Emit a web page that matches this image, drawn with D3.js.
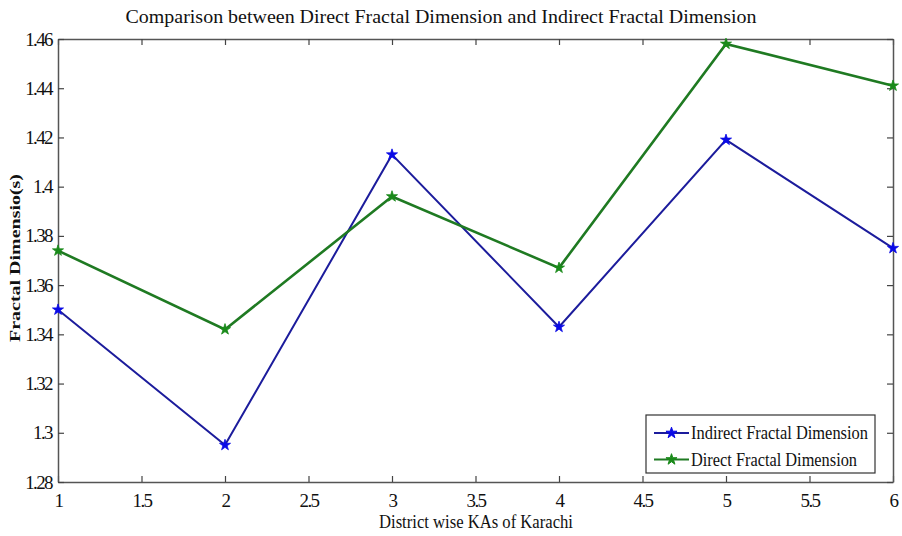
<!DOCTYPE html>
<html>
<head>
<meta charset="utf-8">
<script src="https://cdn.jsdelivr.net/npm/d3@7"></script>
<style>
  body { margin: 0; background: #fff; }
  svg text { font-family: "Liberation Serif", "Times New Roman", serif; fill: #111; }
</style>
</head>
<body>
<div id="chart"></div>
<script>
//Data
const districts = [1, 2, 3, 4, 5, 6];
const indirectFD = [1.350, 1.295, 1.413, 1.343, 1.419, 1.375];
const directFD = [1.374, 1.342, 1.396, 1.367, 1.458, 1.441];
const xTicks = [1, 1.5, 2, 2.5, 3, 3.5, 4, 4.5, 5, 5.5, 6];
const yTicks = [1.28, 1.3, 1.32, 1.34, 1.36, 1.38, 1.4, 1.42, 1.44, 1.46];
const seriesNames = ["Indirect Fractal Dimension", "Direct Fractal Dimension"];

//Margin
const margin = { top: 39, right: 9, bottom: 54, left: 58 };
const width = 902 - margin.left - margin.right;
const height = 536 - margin.top - margin.bottom;

const series = [
  { name: seriesNames[0], values: indirectFD, line: "#1c1c9c", mark: "#0a0ae6", w: 2 },
  { name: seriesNames[1], values: directFD, line: "#1f7a22", mark: "#1a8a1a", w: 2.6 }
];

const svg = d3.select("#chart").append("svg")
  .attr("width", 902)
  .attr("height", 536);

const g = svg.append("g")
  .attr("transform", "translate(" + margin.left + "," + margin.top + ")");

//Scales
const x = d3.scaleLinear().domain([1, 6]).range([0, width]);
const y = d3.scaleLinear().domain([1.28, 1.46]).range([height, 0]);

const fmt = d => String(+d.toFixed(2));

//Axes (ticks inside, box on all sides)
function styleAxis(sel) {
  sel.select(".domain").attr("stroke", "#555").attr("stroke-width", 1.5);
  sel.selectAll(".tick line").attr("stroke", "#444").attr("stroke-width", 1.2);
  sel.selectAll(".tick text")
    .style("font-family", "'Liberation Serif', serif")
    .style("font-size", "19px")
    .style("letter-spacing", "-1.6px")
    .style("fill", "#111");
}

g.append("g")
  .attr("transform", "translate(0," + height + ")")
  .call(d3.axisBottom(x).tickValues(xTicks).tickFormat(fmt).tickSizeInner(-6).tickSizeOuter(0).tickPadding(12))
  .call(styleAxis);

g.append("g")
  .call(d3.axisTop(x).tickValues(xTicks).tickFormat("").tickSizeInner(-6).tickSizeOuter(0))
  .call(styleAxis);

g.append("g")
  .call(d3.axisLeft(y).tickValues(yTicks).tickFormat(fmt).tickSizeInner(-6).tickSizeOuter(0).tickPadding(6))
  .call(styleAxis);

g.append("g")
  .attr("transform", "translate(" + width + ",0)")
  .call(d3.axisRight(y).tickValues(yTicks).tickFormat("").tickSizeInner(-6).tickSizeOuter(0))
  .call(styleAxis);

//Lines
const line = d3.line()
  .x((d, i) => x(districts[i]))
  .y(d => y(d));

const star = d3.symbol().type(d3.symbolStar).size(38);

series.forEach(function(s) {
  g.append("path")
    .attr("d", line(s.values))
    .attr("fill", "none")
    .attr("stroke", s.line)
    .attr("stroke-width", s.w);
  g.selectAll(null)
    .data(s.values)
    .enter().append("path")
    .attr("d", star)
    .attr("transform", (d, i) => "translate(" + x(districts[i]) + "," + y(d) + ")")
    .attr("fill", s.mark)
    .attr("stroke", s.mark)
    .attr("stroke-width", 0.8);
});

//Title and labels
svg.append("text")
  .attr("x", 441)
  .attr("y", 23)
  .attr("text-anchor", "middle")
  .attr("textLength", 631)
  .attr("lengthAdjust", "spacingAndGlyphs")
  .style("font-size", "19px")
  .text("Comparison between Direct Fractal Dimension and Indirect Fractal Dimension");

svg.append("text")
  .attr("x", 476)
  .attr("y", 528)
  .attr("text-anchor", "middle")
  .attr("textLength", 194)
  .attr("lengthAdjust", "spacingAndGlyphs")
  .style("font-size", "18px")
  .text("District wise KAs of Karachi");

svg.append("text")
  .attr("transform", "translate(20,258) rotate(-90)")
  .attr("text-anchor", "middle")
  .attr("textLength", 168)
  .attr("lengthAdjust", "spacingAndGlyphs")
  .style("font-size", "15px")
  .style("font-weight", "bold")
  .text("Fractal Dimensio(s)");

//Legend
const legend = g.append("g")
  .attr("transform", "translate(" + (646 - margin.left) + "," + (415 - margin.top) + ")");

legend.append("rect")
  .attr("width", 229)
  .attr("height", 58)
  .attr("fill", "#fff")
  .attr("stroke", "#333")
  .attr("stroke-width", 1.2);

const legendItem = legend.selectAll(".legend")
  .data(series)
  .enter().append("g")
  .attr("class", "legend")
  .attr("transform", (d, i) => "translate(0," + (18 + i * 26.5) + ")");

legendItem.append("line")
  .attr("x1", 8).attr("x2", 43)
  .attr("stroke", d => d.line)
  .attr("stroke-width", 2);

legendItem.append("path")
  .attr("d", star)
  .attr("transform", "translate(25.5,0)")
  .attr("fill", d => d.mark)
  .attr("stroke", d => d.mark);

legendItem.append("text")
  .attr("x", 45)
  .attr("y", 6)
  .attr("textLength", d => d.name.length > 25 ? 177 : 166)
  .attr("lengthAdjust", "spacingAndGlyphs")
  .style("font-size", "19px")
  .text(d => d.name);
</script>
</body>
</html>
